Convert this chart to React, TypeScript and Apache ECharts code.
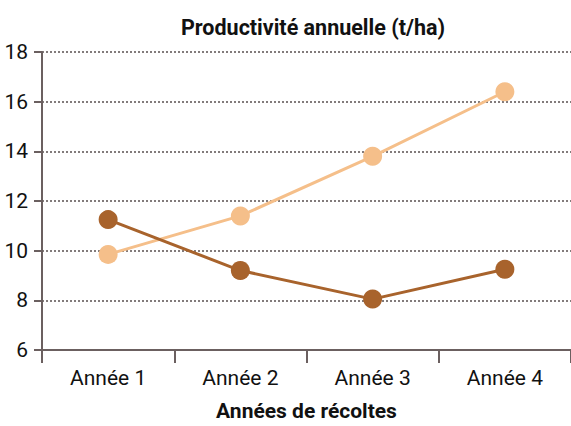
import React, { useEffect, useRef } from "react";
import * as echarts from "echarts";

const categories = ["Année 1", "Année 2", "Année 3", "Année 4"];
const seriesDark = [11.25, 9.2, 8.05, 9.25];
const seriesLight = [9.85, 11.4, 13.8, 16.4];
const yTicks = { min: 6, max: 18, interval: 2 };

const FONT = "Roboto, 'Noto Sans', sans-serif";
const AXIS = "#6b6060";

export default function App() {
  const ref = useRef<HTMLDivElement>(null);
  useEffect(() => {
    if (!ref.current) return;
    const chart = echarts.init(ref.current, null, { renderer: "svg" });
    chart.setOption({
      animation: false,
      backgroundColor: "#fff",
      title: {
        text: "Productivité annuelle (t/ha)",
        left: 308,
        textAlign: "center",
        top: 11,
        textStyle: { fontFamily: FONT, fontSize: 21.5, fontWeight: "bold", color: "#111" },
      },
      grid: { left: 42, right: 0, top: 52, bottom: 72, containLabel: false },
      xAxis: {
        type: "category",
        data: categories,
        boundaryGap: true,
        axisLine: { show: true, lineStyle: { color: AXIS, width: 2 } },
        axisTick: { show: true, length: 13, lineStyle: { color: AXIS, width: 2 } },
        axisLabel: { margin: 17, fontFamily: FONT, fontSize: 21, color: "#111" },
        name: "Années de récoltes",
        nameLocation: "middle",
        nameGap: 50,
        nameTextStyle: { fontFamily: FONT, fontSize: 21, fontWeight: "bold", color: "#111" },
        splitLine: { show: false },
      },
      yAxis: {
        type: "value",
        min: yTicks.min,
        max: yTicks.max,
        interval: yTicks.interval,
        axisLine: { show: true, lineStyle: { color: AXIS, width: 2 } },
        axisTick: { show: true, length: 8, lineStyle: { color: AXIS, width: 2 } },
        axisLabel: { margin: 14, fontFamily: FONT, fontSize: 21, color: "#111" },
        splitLine: { show: true, lineStyle: { color: "#5a5050", width: 1.5, type: [2, 2] } },
      },
      series: [
        {
          type: "line",
          data: seriesDark,
          symbol: "circle",
          symbolSize: 19,
          itemStyle: { color: "#a8632c" },
          lineStyle: { color: "#a8632c", width: 3 },
          z: 3,
        },
        {
          type: "line",
          data: seriesLight,
          symbol: "circle",
          symbolSize: 19,
          itemStyle: { color: "#f5bf8a" },
          lineStyle: { color: "#f5bf8a", width: 3 },
          z: 2,
        },
      ],
    });
    return () => chart.dispose();
  }, []);
  return (
    <div
      ref={ref}
      style={{ position: "fixed", left: 0, top: 0, width: 571, height: 426 }}
    />
  );
}
